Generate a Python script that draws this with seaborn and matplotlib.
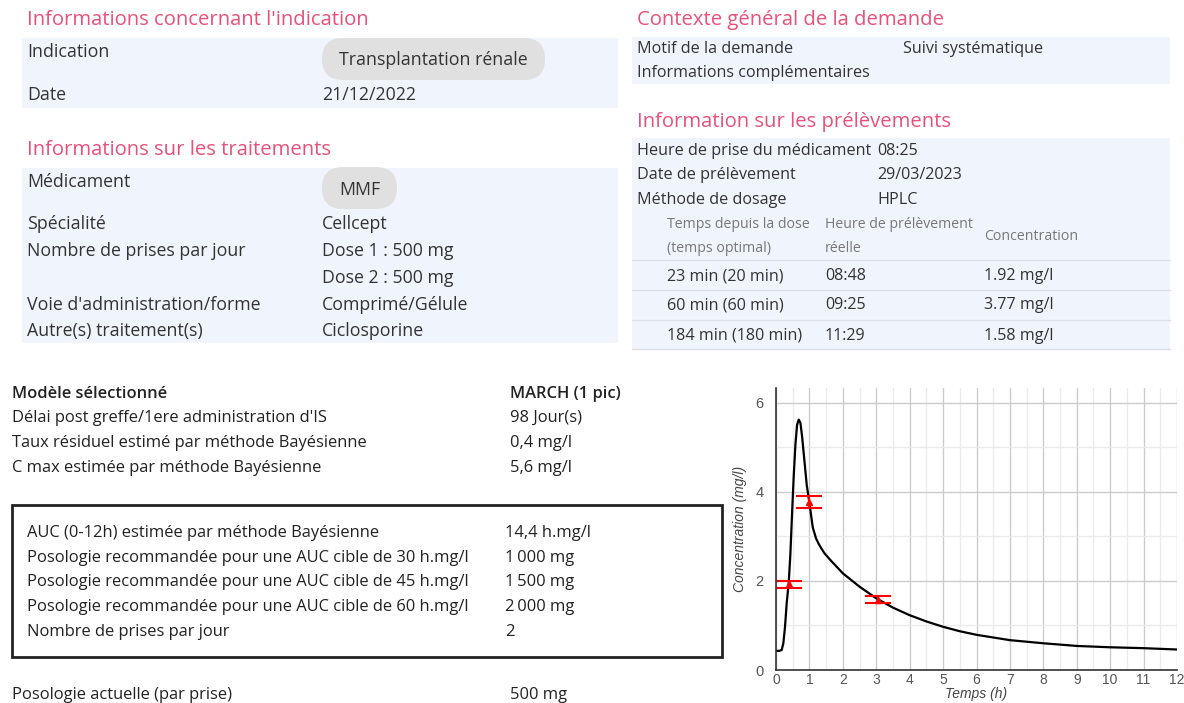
import matplotlib
matplotlib.use("Agg")
import matplotlib.pyplot as plt
from matplotlib.patches import Rectangle, FancyBboxPatch
from matplotlib.transforms import IdentityTransform
import seaborn as sns

W, H = 1184, 703

# ── Données ──────────────────────────────────────────────────────────────
indication_rows = [("Indication", "Transplantation rénale"), ("Date", "21/12/2022")]
traitement_labels = ["Médicament", "Spécialité", "Nombre de prises par jour", "",
                     "Voie d'administration/forme", "Autre(s) traitement(s)"]
traitement_values = ["MMF", "Cellcept", "Dose 1 : 500 mg", "Dose 2 : 500 mg",
                     "Comprimé/Gélule", "Ciclosporine"]
contexte_rows = [("Motif de la demande", "Suivi systématique"),
                 ("Informations complémentaires", "")]
prelev_rows = [("Heure de prise du médicament", "08:25"),
               ("Date de prélèvement", "29/03/2023"),
               ("Méthode de dosage", "HPLC")]
table_temps = ["23 min (20 min)", "60 min (60 min)", "184 min (180 min)"]
table_heure = ["08:48", "09:25", "11:29"]
table_conc = ["1.92 mg/l", "3.77 mg/l", "1.58 mg/l"]

modele_rows = [("Modèle sélectionné", "MARCH (1 pic)"),
               ("Délai post greffe/1ere administration d'IS", "98 Jour(s)"),
               ("Taux résiduel estimé par méthode Bayésienne", "0,4 mg/l"),
               ("C max estimée par méthode Bayésienne", "5,6 mg/l")]
auc_rows = [("AUC (0-12h) estimée par méthode Bayésienne", "14,4 h.mg/l"),
            ("Posologie recommandée pour une AUC cible de 30 h.mg/l", "1\u2009000 mg"),
            ("Posologie recommandée pour une AUC cible de 45 h.mg/l", "1\u2009500 mg"),
            ("Posologie recommandée pour une AUC cible de 60 h.mg/l", "2\u2009000 mg"),
            ("Nombre de prises par jour", "2")]
posologie_actuelle = ("Posologie actuelle (par prise)", "500 mg")

# courbe
temps_h = [0, 0.1, 0.17, 0.22, 0.27, 0.32, 0.38, 0.43, 0.48, 0.53, 0.58, 0.63,
           0.68, 0.73, 0.78, 0.85, 0.92, 1.0, 1.1, 1.2, 1.3, 1.45, 1.65, 2.0,
           2.5, 3.0, 3.5, 4.0, 4.5, 5.0, 5.5, 6.0, 7.0, 8.0, 9.0, 10.0, 11.0, 12.0]
conc_mg_l = [0.43, 0.43, 0.45, 0.6, 0.97, 1.5, 1.95, 2.6, 3.5, 4.35, 5.05, 5.5,
             5.62, 5.55, 5.25, 4.7, 4.15, 3.75, 3.2, 2.95, 2.8, 2.62, 2.45, 2.17,
             1.87, 1.61, 1.4, 1.23, 1.09, 0.97, 0.87, 0.79, 0.67, 0.6, 0.54, 0.51,
             0.49, 0.46]
obs_t = [23 / 60, 60 / 60, 184 / 60]
obs_c = [1.92, 3.77, 1.58]
obs_err = [0.085, 0.13, 0.07]

# ── Style ────────────────────────────────────────────────────────────────
sns.set_theme(style="white")
plt.rcParams["font.family"] = ["Open Sans", "DejaVu Sans"]

PINK = "#e9517a"
BG = "#f0f5fd"
TXT = "#333333"
DARK = "#222222"
PILL = "#e0e0e0"
FS = 12.8          # texte des blocs de gauche
FS_R = 11.6        # texte des blocs de droite
FS_B = 11.9        # bloc du bas
FS_TITLE = 14.6

fig = plt.figure(figsize=(W / 100, H / 100), dpi=100)


def fx(x):
    return x / W


def fy(y):
    return 1 - y / H


def txt(x, y, s, size=FS, color=TXT, **kw):
    ha = kw.pop("ha", "left")
    fig.text(fx(x), fy(y + 2), s, fontsize=size, color=color, va="center", ha=ha, **kw)


def rect(x0, y0, x1, y1, **kw):
    fig.patches.append(Rectangle((fx(x0), fy(y1)), fx(x1 - x0), (y1 - y0) / H,
                                 transform=fig.transFigure, **kw))


def pill(x0, y0, x1, y1):
    # pastille grise arrondie, en pixels
    r = (y1 - y0) / 2
    p = FancyBboxPatch((x0 + r, H - y1 + r), x1 - x0 - 2 * r, 0,
                       boxstyle=f"round,pad={r},rounding_size={r}",
                       fc=PILL, ec="none")
    p.set_transform(IdentityTransform())
    fig.patches.append(p)


# ── Bloc indication ──────────────────────────────────────────────────────
txt(27, 18, "Informations concernant l'indication", FS_TITLE, PINK)
rect(22, 38, 618, 108, fc=BG, ec="none")
pill(322, 38, 545, 80)
txt(27, 50, indication_rows[0][0])
txt(433, 58, indication_rows[0][1], ha="center")
txt(27, 93, indication_rows[1][0])
txt(322, 93, indication_rows[1][1])

# ── Bloc traitements ─────────────────────────────────────────────────────
txt(27, 148, "Informations sur les traitements", FS_TITLE, PINK)
rect(22, 168, 618, 343, fc=BG, ec="none")
pill(322, 167, 397, 209)
label_y = [180, 222, 249, 276, 303, 329]
for lab, val, y in zip(traitement_labels, traitement_values, label_y):
    txt(27, y, lab)
    if val == "MMF":
        txt(360, 188, val, ha="center")
    else:
        txt(322, y, val)

# ── Bloc contexte ────────────────────────────────────────────────────────
txt(637, 18, "Contexte général de la demande", FS_TITLE, PINK)
rect(632, 37, 1170, 84, fc=BG, ec="none")
for (lab, val), y in zip(contexte_rows, [47, 71]):
    txt(637, y, lab, FS_R)
    txt(903, y, val, FS_R)

# ── Bloc prélèvements ────────────────────────────────────────────────────
txt(637, 120, "Information sur les prélèvements", FS_TITLE, PINK)
rect(632, 138, 1170, 350, fc=BG, ec="none")
for (lab, val), y in zip(prelev_rows, [149, 173, 198]):
    txt(637, y, lab, FS_R)
    txt(877, y, val, FS_R)
HDR = "#777777"
FS_H = 10.2
txt(667, 222, "Temps depuis la dose", FS_H, HDR)
txt(667, 246, "(temps optimal)", FS_H, HDR)
txt(825, 222, "Heure de prélèvement", FS_H, HDR)
txt(825, 246, "réelle", FS_H, HDR)
txt(984, 234, "Concentration", FS_H, HDR)
for y in [260, 290, 320, 349]:
    fig.add_artist(plt.Line2D([fx(632), fx(1170)], [fy(y), fy(y)], color="#dcdfe4", lw=1))
for a, b, c, y in zip(table_temps, table_heure, table_conc, [274, 303, 334]):
    txt(667, y, a, FS_R)
    txt(825, y, b, FS_R)
    txt(984, y, c, FS_R)

# ── Bloc modèle / AUC ────────────────────────────────────────────────────
for i, ((lab, val), y) in enumerate(zip(modele_rows, [392, 416, 441, 466])):
    w = "semibold" if i == 0 else "normal"
    txt(12, y, lab, FS_B, DARK, fontweight=w)
    txt(510, y, val, FS_B, DARK, fontweight=w)
rect(12, 505, 722, 657, fc="none", ec=DARK, lw=2)
for (lab, val), y in zip(auc_rows, [531, 556, 580, 605, 630]):
    txt(27, y, lab, FS_B, DARK)
    txt(505, y, val, FS_B, DARK)
txt(12, 693, posologie_actuelle[0], FS_B, DARK)
txt(510, 693, posologie_actuelle[1], FS_B, DARK)

# ── Graphique ────────────────────────────────────────────────────────────
ax = fig.add_axes([fx(776), fy(670), fx(1177 - 776), (670 - 388) / H])
sns.lineplot(x=temps_h, y=conc_mg_l, color="black", lw=1.6, ax=ax)
ax.errorbar(obs_t, obs_c, yerr=obs_err, fmt="^", color="red", ms=5,
            capsize=9.5, capthick=1.5, elinewidth=1.2)
ax.set_xlim(0, 12)
ax.set_ylim(0, 6.33)
ax.set_xticks(range(0, 13))
ax.set_yticks([0, 2, 4, 6])
ax.set_xticks([x + 0.5 for x in range(12)], minor=True)
ax.set_yticks([1, 3, 5], minor=True)
ax.grid(True, which="major", color="#cccccc", lw=1)
ax.grid(True, which="minor", color="#ebebeb", lw=1)
ax.set_axisbelow(True)
for s in ["top", "right"]:
    ax.spines[s].set_visible(False)
for s in ["left", "bottom"]:
    ax.spines[s].set_color("#333333")
    ax.spines[s].set_linewidth(1.2)
ax.tick_params(axis="x", which="both", length=0, labelsize=10,
               labelcolor="#555555", pad=2)
ax.tick_params(axis="y", which="both", length=0, labelsize=10.5,
               labelcolor="#555555", pad=9)
for lab in ax.get_xticklabels() + ax.get_yticklabels():
    lab.set_fontfamily(["Liberation Sans", "DejaVu Sans"])
ax.set_xlabel("Temps (h)", fontsize=10, color="#444444", style="italic",
              family=["Liberation Sans", "DejaVu Sans"], labelpad=0)
ax.set_ylabel("Concentration (mg/l)", fontsize=10, color="#444444", style="italic",
              family=["Liberation Sans", "DejaVu Sans"], labelpad=6)

fig.savefig("out.png", dpi=100)
